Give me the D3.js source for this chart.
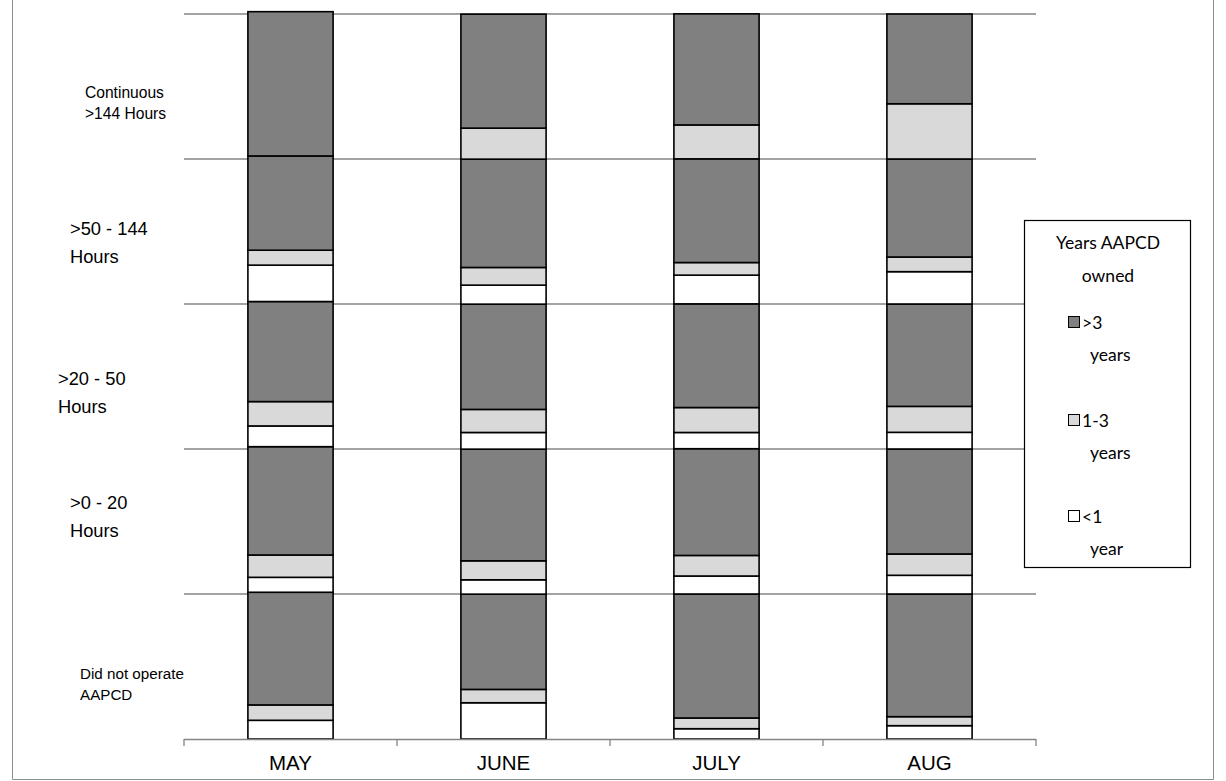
<!DOCTYPE html>
<html>
<head>
<meta charset="utf-8">
<script src="https://cdn.jsdelivr.net/npm/d3@7"></script>
<style>
  body { margin: 0; background: #fff; }
  svg { display: block; }
</style>
</head>
<body>
<svg id="chart" width="1226" height="781"></svg>
<script>
// ---- data (percent within each hours band, per month) ----
const months = ["MAY", "JUNE", "JULY", "AUG"];
const bands = [
  ["Did not operate", "AAPCD"],
  [">0 - 20", "Hours"],
  [">20 - 50", "Hours"],
  [">50 - 144", "Hours"],
  ["Continuous", ">144 Hours"]
];
const seriesNames = ["<1 year", "1-3 years", ">3 years"];
// index: [month][band]  band order: Did not operate, >0-20, >20-50, >50-144, Continuous
const under1Year = [
  [12.9, 10.3, 14.3, 25.1, 0],
  [25.0, 9.9, 11.5, 13.1, 0],
  [7.1, 12.4, 11.2, 19.8, 0],
  [9.2, 12.9, 11.5, 22.3, 0]
];
const oneTo3Years = [
  [10.6, 15.4, 16.8, 10.3, 0],
  [9.2, 13.1, 15.9, 12.2, 21.4],
  [7.4, 14.2, 17.2, 8.7, 23.4],
  [6.2, 14.7, 17.9, 10.1, 38.1]
];
const over3Years = [
  [77.7, 74.7, 69.0, 65.0, 99.5],
  [65.7, 77.0, 72.6, 74.7, 78.6],
  [85.5, 73.6, 71.5, 71.5, 76.6],
  [84.6, 72.4, 70.6, 67.6, 61.9]
];
const gridValues = [100, 200, 300, 400, 500];

// ---- build stacked table ----
const seriesData = [under1Year, oneTo3Years, over3Years];
const keys = [];
bands.forEach((b, bi) => seriesNames.forEach((s, si) => keys.push(bi + "_" + si)));
const table = months.map((m, mi) => {
  const row = { month: m };
  bands.forEach((b, bi) => seriesNames.forEach((s, si) => {
    row[bi + "_" + si] = seriesData[si][mi][bi];
  }));
  return row;
});
const stacked = d3.stack().keys(keys)(table);

const fills = ["#ffffff", "#d9d9d9", "#808080"];

const svg = d3.select("#chart");
svg.append("rect").attr("width", 1226).attr("height", 781).attr("fill", "#fff");

// outer frame
svg.append("path")
  .attr("d", "M12.5,0 V779.5 H1213.5 V0")
  .attr("fill", "none").attr("stroke", "#8c8c8c").attr("stroke-width", 1);

const x = d3.scaleBand().domain(months).range([184, 1036]).paddingInner(0.6).paddingOuter(0.3);
const y = d3.scaleLinear().domain([0, 500]).range([739, 14]);

// gridlines
svg.append("g").selectAll("line").data(gridValues).join("line")
  .attr("x1", 184).attr("x2", 1036)
  .attr("y1", d => y(d)).attr("y2", d => y(d))
  .attr("stroke", "#858585").attr("stroke-width", 1.5);

// bars
const layers = svg.append("g").selectAll("g").data(stacked).join("g")
  .attr("fill", d => fills[+d.key.split("_")[1]]);
layers.selectAll("rect").data(d => d).join("rect")
  .attr("x", d => x(d.data.month))
  .attr("width", x.bandwidth())
  .attr("y", d => y(d[1]))
  .attr("height", d => Math.max(0, y(d[0]) - y(d[1])))
  .attr("stroke", "#000").attr("stroke-width", 1.6);

// x axis
const xAxis = svg.append("g").attr("transform", "translate(0,739)")
  .call(d3.axisBottom(x).tickSize(0).tickPadding(16));
xAxis.select(".domain").remove();
xAxis.selectAll("text")
  .attr("font-family", "Liberation Sans, Arial, sans-serif")
  .attr("font-size", 20.5).attr("fill", "#000");
svg.append("line").attr("x1", 184).attr("x2", 1036).attr("y1", 739.5).attr("y2", 739.5)
  .attr("stroke", "#858585").attr("stroke-width", 1.5);
const boundaries = [184].concat(months.map(m => x(m) + x.bandwidth() + x.step() * 0.3));
svg.append("g").selectAll("line").data(boundaries).join("line")
  .attr("x1", d => d).attr("x2", d => d).attr("y1", 739).attr("y2", 746)
  .attr("stroke", "#858585").attr("stroke-width", 1.3);

// y category labels (left)
const labelPos = [
  { x: 80, y1: 673, y2: 694, size: 15.2 },
  { x: 70, y1: 502, y2: 530, size: 18.3 },
  { x: 58, y1: 378, y2: 406, size: 18.3 },
  { x: 70, y1: 228, y2: 256, size: 18.3 },
  { x: 85, y1: 92, y2: 113, size: 15.6 }
];
bands.forEach((b, i) => {
  const p = labelPos[i];
  const t = svg.append("text")
    .attr("font-family", "Liberation Sans, Arial, sans-serif")
    .attr("font-size", p.size).attr("fill", "#000")
    .attr("dominant-baseline", "central");
  t.append("tspan").attr("x", p.x).attr("y", p.y1).text(b[0]);
  t.append("tspan").attr("x", p.x).attr("y", p.y2).text(b[1]);
});

// legend
const lg = svg.append("g");
lg.append("rect").attr("x", 1024.5).attr("y", 220.5).attr("width", 166).attr("height", 347)
  .attr("fill", "#fff").attr("stroke", "#000").attr("stroke-width", 1.2);
const lfont = "Lato, 'Open Sans', sans-serif";
const lsize = 17.5;
lg.append("text").attr("x", 1108).attr("y", 242).attr("text-anchor", "middle")
  .attr("dominant-baseline", "central").attr("font-family", lfont).attr("font-size", lsize)
  .text("Years AAPCD");
lg.append("text").attr("x", 1108).attr("y", 275).attr("text-anchor", "middle")
  .attr("dominant-baseline", "central").attr("font-family", lfont).attr("font-size", lsize)
  .text("owned");
const legendItems = [
  { name: ">3", sub: "years", fill: fills[2], y: 322 },
  { name: "1-3", sub: "years", fill: fills[1], y: 420 },
  { name: "<1", sub: "year", fill: fills[0], y: 516 }
];
legendItems.forEach(it => {
  lg.append("rect").attr("x", 1068.5).attr("y", it.y - 5.5).attr("width", 11).attr("height", 11)
    .attr("fill", it.fill).attr("stroke", "#000").attr("stroke-width", 1);
  lg.append("text").attr("x", 1082).attr("y", it.y).attr("dominant-baseline", "central")
    .attr("font-family", lfont).attr("font-size", lsize).text(it.name);
  lg.append("text").attr("x", 1090).attr("y", it.y + 32).attr("dominant-baseline", "central")
    .attr("font-family", lfont).attr("font-size", lsize).text(it.sub);
});
</script>
</body>
</html>
